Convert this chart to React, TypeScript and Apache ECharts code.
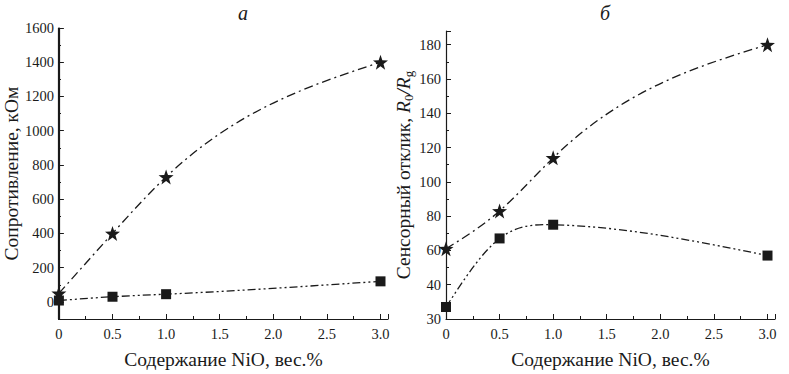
import React, { useEffect, useRef } from "react";
import * as echarts from "echarts";

const nio = [0, 0.5, 1.0, 3.0];
const resistStar = [50, 400, 730, 1400];
const resistSquare = [8, 30, 45, 120];
const respStar = [61, 83, 114, 180];
const respSquare = [27, 67, 75, 57];

const resistMajorTicks = [0, 200, 400, 600, 800, 1000, 1200, 1400, 1600];
const resistMinorTicks = [-100, 100, 300, 500, 700, 900, 1100, 1300, 1500];

const FONT = "Liberation Serif";
const INK = "#1a1a1a";
const NAME_SIZE = 19.5;
const TICK_SIZE = 14.5;
const STAR =
  "path://M0,-10 L2.35,-3.24 L9.51,-3.09 L3.8,1.24 L5.88,8.09 L0,4 L-5.88,8.09 L-3.8,1.24 L-9.51,-3.09 L-2.35,-3.24 Z";
const DASH_DOT = [9, 4, 2, 4];
const DASH_DOT_DOT = [8, 3, 2, 3, 2, 3];

const pts = (ys: number[]) => nio.map((x, i) => [x, ys[i]]);

const richS = (size: number) => ({
  s: { fontFamily: FONT, fontSize: size, color: INK },
  i: { fontFamily: FONT, fontSize: size, fontStyle: "italic", color: INK },
  sub: {
    fontFamily: FONT,
    fontSize: 13,
    color: INK,
    verticalAlign: "bottom",
    padding: [10, 0, 0, 0],
  },
});

// natural cubic spline through the data points, drawn as bezier segments via api.coord
function splinePath(xs: number[], ys: number[], api: any): string {
  const n = xs.length;
  const h: number[] = [];
  for (let i = 0; i < n - 1; i++) h[i] = xs[i + 1] - xs[i];
  const a: number[] = [];
  const b: number[] = [];
  const c: number[] = [];
  const d: number[] = [];
  for (let i = 1; i < n - 1; i++) {
    a[i] = h[i - 1];
    b[i] = 2 * (h[i - 1] + h[i]);
    c[i] = h[i];
    d[i] = 6 * ((ys[i + 1] - ys[i]) / h[i] - (ys[i] - ys[i - 1]) / h[i - 1]);
  }
  for (let i = 2; i < n - 1; i++) {
    const w = a[i] / b[i - 1];
    b[i] -= w * c[i - 1];
    d[i] -= w * d[i - 1];
  }
  const M: number[] = new Array(n).fill(0);
  if (n > 2) {
    M[n - 2] = d[n - 2] / b[n - 2];
    for (let i = n - 3; i >= 1; i--) M[i] = (d[i] - c[i] * M[i + 1]) / b[i];
  }
  const p0 = api.coord([xs[0], ys[0]]);
  let path = `M${p0[0]},${p0[1]}`;
  for (let i = 0; i < n - 1; i++) {
    const s = (ys[i + 1] - ys[i]) / h[i];
    const sl = s - (h[i] * (2 * M[i] + M[i + 1])) / 6;
    const sr = s + (h[i] * (M[i] + 2 * M[i + 1])) / 6;
    const c1 = api.coord([xs[i] + h[i] / 3, ys[i] + (h[i] / 3) * sl]);
    const c2 = api.coord([xs[i + 1] - h[i] / 3, ys[i + 1] - (h[i] / 3) * sr]);
    const p = api.coord([xs[i + 1], ys[i + 1]]);
    path += ` C${c1[0]},${c1[1]} ${c2[0]},${c2[1]} ${p[0]},${p[1]}`;
  }
  return path;
}

const curveSeries = (axis: number, ys: number[], dash: number[]) => ({
  type: "custom",
  coordinateSystem: "cartesian2d",
  xAxisIndex: axis,
  yAxisIndex: axis === 0 ? 0 : 2,
  clip: false,
  silent: true,
  z: 2,
  data: [[nio[0], ys[0]]],
  renderItem: (_params: any, api: any) => ({
    type: "path",
    shape: { pathData: splinePath(nio, ys, api) },
    style: { fill: "none", stroke: INK, lineWidth: 1.3, lineDash: dash },
  }),
});

const markerSeries = (axis: number, ys: number[], star: boolean) => ({
  type: "scatter",
  xAxisIndex: axis,
  yAxisIndex: axis === 0 ? 0 : 2,
  data: pts(ys),
  z: 5,
  symbol: star ? STAR : "rect",
  symbolSize: star ? 15 : 10,
  itemStyle: { color: INK, opacity: 1 },
});

const xAxisBase = (gridIndex: number) => ({
  type: "value",
  gridIndex,
  min: 0,
  max: 3.07,
  interval: 0.5,
  name: "{s|Содержание NiO, вес.%}",
  nameLocation: "middle",
  nameGap: 30,
  nameTextStyle: { fontFamily: FONT, fontSize: NAME_SIZE, color: INK, rich: richS(NAME_SIZE) },
  axisLine: { show: true, onZero: false, lineStyle: { color: INK, width: 1.2 } },
  axisTick: { show: true, inside: true, length: 5, lineStyle: { color: INK } },
  minorTick: { show: true, splitNumber: 2, length: 3, lineStyle: { color: INK } },
  splitLine: { show: false },
  axisLabel: {
    fontFamily: FONT,
    fontSize: TICK_SIZE,
    color: INK,
    margin: 7,
    rich: richS(TICK_SIZE),
    formatter: (v: number) =>
      v > 3.01 ? "" : `{s|${v === 0 ? "0" : v.toFixed(1)}}`,
  },
});

export default function App() {
  const ref = useRef<HTMLDivElement>(null);
  useEffect(() => {
    if (!ref.current) return;
    const chart = echarts.init(ref.current, undefined, { renderer: "svg" });
    const option = {
      animation: false,
      backgroundColor: "#ffffff",
      textStyle: { fontFamily: FONT },
      grid: [
        { left: 58, top: 28, width: 330, height: 291 },
        { left: 446, top: 31, width: 329, height: 289 },
        { left: 58, top: 28, width: 330, height: 291 },
      ],
      graphic: [
        {
          type: "text",
          left: 238,
          top: 3,
          style: { text: "a", fontFamily: FONT, fontStyle: "italic", fontSize: 20, fill: INK },
        },
        {
          type: "text",
          left: 600,
          top: 3,
          style: { text: "б", fontFamily: FONT, fontStyle: "italic", fontSize: 20, fill: INK },
        },
      ],
      xAxis: [
        xAxisBase(0),
        xAxisBase(1),
        { type: "value", gridIndex: 2, min: 0, max: 3.07, show: false },
      ],
      yAxis: [
        {
          type: "value",
          gridIndex: 0,
          min: -100,
          max: 1600,
          interval: 100,
          name: "{s|Сопротивление, кОм}",
          nameLocation: "middle",
          nameRotate: 90,
          nameGap: 37,
          nameTextStyle: { fontFamily: FONT, fontSize: NAME_SIZE, color: INK, rich: richS(NAME_SIZE) },
          axisLine: { show: true, onZero: false, lineStyle: { color: INK, width: 1.2 } },
          axisTick: {
            show: true,
            inside: true,
            length: 5,
            customValues: resistMajorTicks,
            lineStyle: { color: INK },
          },
          splitLine: { show: false },
          axisLabel: {
            fontFamily: FONT,
            fontSize: TICK_SIZE,
            color: INK,
            margin: 5,
            rich: richS(TICK_SIZE),
            customValues: resistMajorTicks,
            formatter: (v: number) => `{s|${v}}`,
          },
        },
        {
          type: "value",
          gridIndex: 2,
          min: -100,
          max: 1600,
          interval: 100,
          axisLine: { show: true, onZero: false, lineStyle: { color: INK, width: 1.2 } },
          axisTick: {
            show: true,
            inside: true,
            length: 3,
            customValues: resistMinorTicks,
            lineStyle: { color: INK },
          },
          axisLabel: { show: false },
          splitLine: { show: false },
        },
        {
          type: "value",
          gridIndex: 1,
          min: 20,
          max: 188,
          interval: 20,
          name: "{s|Сенсорный отклик, }{i|R}{sub|0}{i|/R}{sub|g}",
          nameLocation: "middle",
          nameRotate: 90,
          nameGap: 24,
          nameTextStyle: { fontFamily: FONT, fontSize: NAME_SIZE, color: INK, rich: richS(NAME_SIZE) },
          axisLine: { show: true, onZero: false, lineStyle: { color: INK, width: 1.2 } },
          axisTick: { show: true, inside: true, length: 5, lineStyle: { color: INK } },
          minorTick: { show: true, splitNumber: 2, length: 3, lineStyle: { color: INK } },
          splitLine: { show: false },
          axisLabel: {
            fontFamily: FONT,
            fontSize: TICK_SIZE,
            color: INK,
            margin: 5,
            rich: richS(TICK_SIZE),
            formatter: (v: number) => (v > 185 ? "" : `{s|${v === 20 ? "30" : v}}`),
          },
        },
      ],
      series: [
        curveSeries(0, resistStar, DASH_DOT),
        curveSeries(0, resistSquare, DASH_DOT_DOT),
        curveSeries(1, respStar, DASH_DOT),
        curveSeries(1, respSquare, DASH_DOT_DOT),
        markerSeries(0, resistStar, true),
        markerSeries(0, resistSquare, false),
        markerSeries(1, respStar, true),
        markerSeries(1, respSquare, false),
      ],
    };
    chart.setOption(option as any);
    return () => chart.dispose();
  }, []);
  return (
    <div
      ref={ref}
      style={{ position: "fixed", left: 0, top: 0, width: 789, height: 374, background: "#fff" }}
    />
  );
}
